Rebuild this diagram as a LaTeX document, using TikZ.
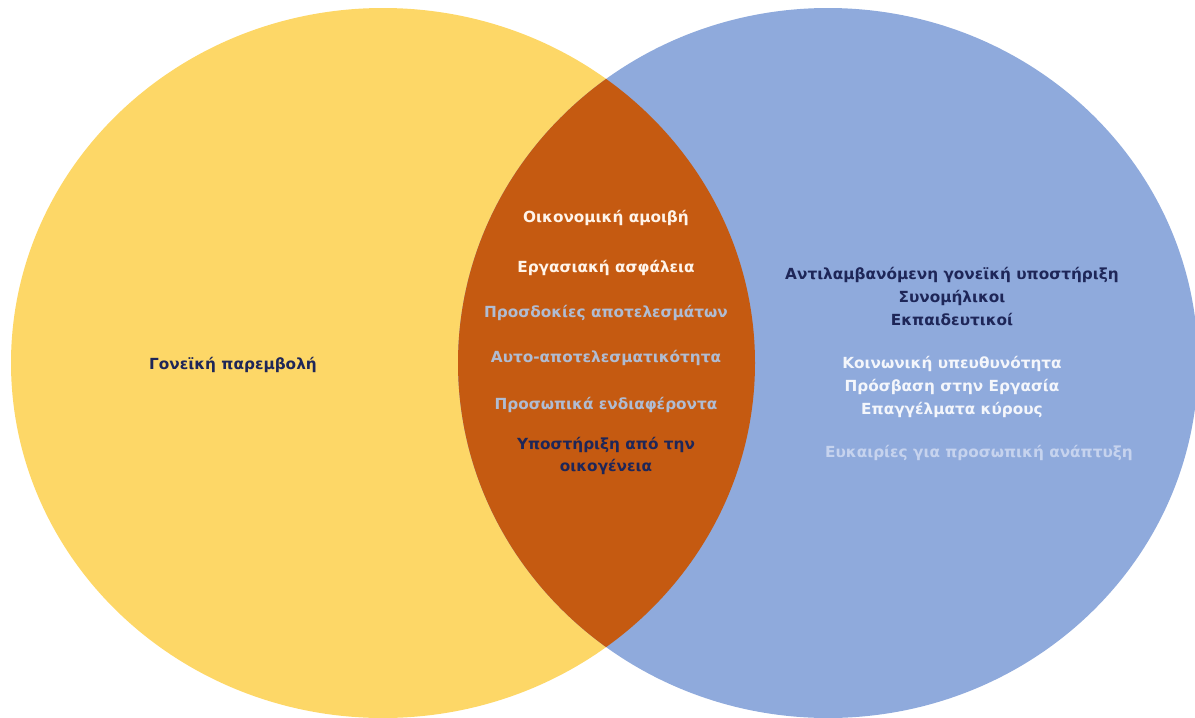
\documentclass[tikz,border=0pt]{standalone}
\usepackage{fontspec}
\setmainfont{DejaVu Sans}
\definecolor{yellowc}{HTML}{FDD767}
\definecolor{bluec}{HTML}{8FAADC}
\definecolor{orangec}{HTML}{C55A11}
\definecolor{navy}{HTML}{1E2658}
\definecolor{paleblue}{HTML}{B0BCD2}
\definecolor{cream}{HTML}{FFF4EA}
\definecolor{whitish}{HTML}{F4F6FB}
\definecolor{faint}{HTML}{C6D3EE}
\tikzset{
  lbl/.style={font=\bfseries\fontsize{15.3}{23}\selectfont, align=center, inner sep=0pt},
  lbltight/.style={lbl, font=\bfseries\fontsize{15.3}{22}\selectfont},
}
\begin{document}
\begin{tikzpicture}[x=1pt,y=-1pt]
\useasboundingbox (0,0) rectangle (1195,718);
\fill[yellowc] (383,363) ellipse [x radius=372pt, y radius=355pt];
\fill[bluec] (828,363) ellipse [x radius=370pt, y radius=355pt];
\begin{scope}
\clip (383,363) ellipse [x radius=372pt, y radius=355pt];
\fill[orangec] (828,363) ellipse [x radius=370pt, y radius=355pt];
\end{scope}
% intersection labels
\node[lbl, text=cream] (c1) at (606,218) {Οικονομική αμοιβή};
\node[lbl, text=cream] (c2) at (606,268) {Εργασιακή ασφάλεια};
\node[lbl, text=paleblue] (c3) at (606,313) {Προσδοκίες αποτελεσμάτων};
\node[lbl, text=paleblue] (c4) at (606,358) {Αυτο-αποτελεσματικότητα};
\node[lbl, text=paleblue] (c5) at (606,405) {Προσωπικά ενδιαφέροντα};
\node[lbltight, text=navy] (c6) at (606,456) {Υποστήριξη από την\\οικογένεια};
% left
\node[lbl, text=navy] (l1) at (233,365) {Γονεϊκή παρεμβολή};
% right
\node[lbl, text=navy] (r1) at (952,297) {Αντιλαμβανόμενη γονεϊκή υποστήριξη\\Συνομήλικοι\\Εκπαιδευτικοί};
\node[lbl, text=whitish] (r2) at (952,387) {Κοινωνική υπευθυνότητα\\Πρόσβαση στην Εργασία\\Επαγγέλματα κύρους};
\node[lbl, text=faint] (r3) at (979,453) {Ευκαιρίες για προσωπική ανάπτυξη};
\end{tikzpicture}
\end{document}
